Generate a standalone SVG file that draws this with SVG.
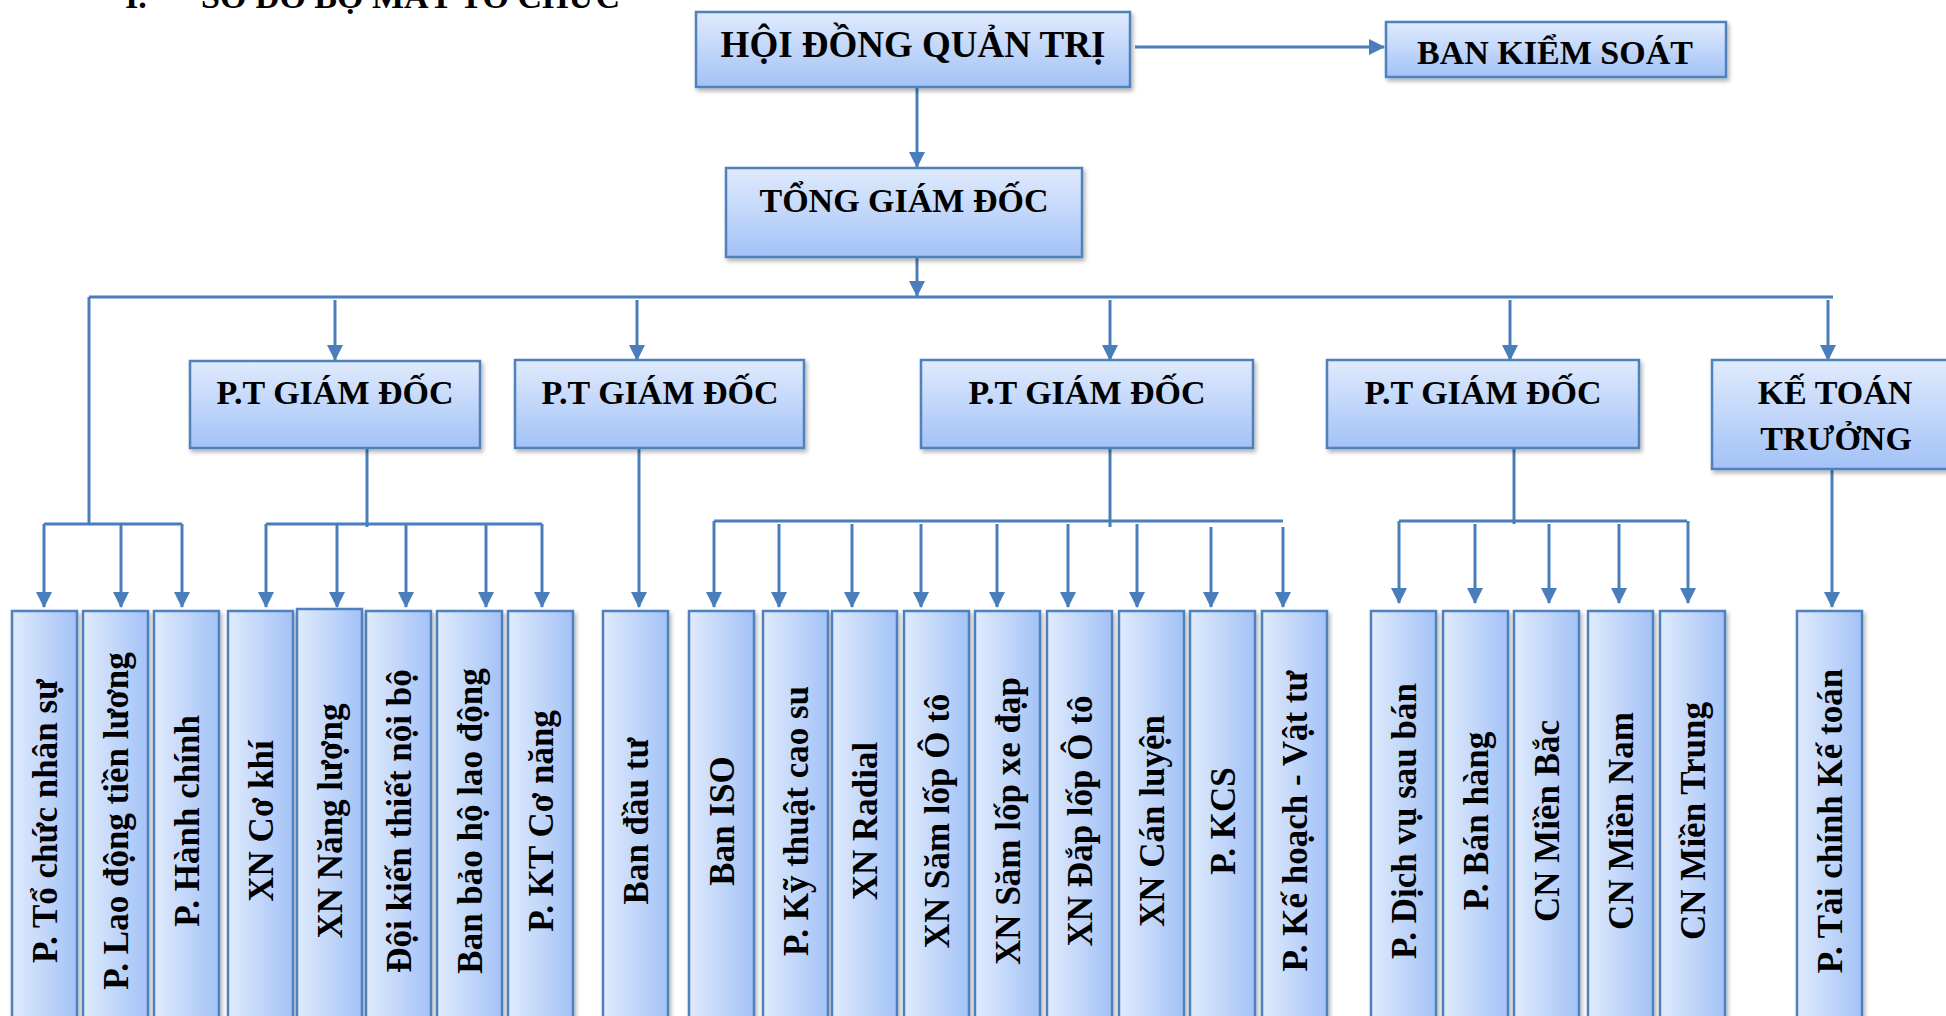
<svg xmlns="http://www.w3.org/2000/svg" width="1946" height="1016" viewBox="0 0 1946 1016">
<style>
.box{stroke:#4f81bd;stroke-width:2.5;filter:url(#sh)}
.h{fill:url(#gv)}
.v{fill:url(#gh)}
.t{font-family:"Liberation Serif","Times New Roman",serif;font-weight:bold;fill:#000}
.tt{font-size:34px;text-anchor:middle}
.vt{font-size:35px;text-anchor:middle}
.c{stroke:#4a7ebb;stroke-width:3;fill:none}
.a{marker-end:url(#ar)}
</style>
<defs>
<linearGradient id="gv" x1="0" y1="0" x2="0" y2="1">
<stop offset="0" stop-color="#e0ebfd"/><stop offset="1" stop-color="#a3c2f6"/>
</linearGradient>
<linearGradient id="gh" x1="0" y1="0" x2="1" y2="0">
<stop offset="0" stop-color="#e0ebfd"/><stop offset="1" stop-color="#a3c2f6"/>
</linearGradient>
<filter id="sh" x="-10%" y="-10%" width="130%" height="130%">
<feDropShadow dx="2" dy="3" stdDeviation="2" flood-color="#000" flood-opacity="0.3"/>
</filter>
<marker id="ar" markerUnits="userSpaceOnUse" markerWidth="16" markerHeight="16" viewBox="0 0 16 16" refX="15" refY="8" orient="auto">
<path d="M0,0 L16,8 L0,16 Z" fill="#4a7ebb"/>
</marker>
</defs>

<text class="t" x="125" y="8" font-size="34">I.</text>
<text class="t" x="201" y="8" font-size="34">SƠ ĐỒ BỘ MÁY TỔ CHỨC</text>

<g id="connectors">
<line class="c a" x1="1135" y1="47" x2="1384" y2="47"/>
<line class="c a" x1="917" y1="87" x2="917" y2="167"/>
<line class="c a" x1="917" y1="257" x2="917" y2="296"/>
<line class="c" x1="89" y1="297" x2="1833" y2="297"/>
<line class="c" x1="89" y1="297" x2="89" y2="524"/>
<line class="c a" x1="335" y1="300" x2="335" y2="360"/>
<line class="c a" x1="637" y1="300" x2="637" y2="360"/>
<line class="c a" x1="1110" y1="300" x2="1110" y2="360"/>
<line class="c a" x1="1510" y1="300" x2="1510" y2="360"/>
<line class="c a" x1="1828" y1="300" x2="1828" y2="360"/>
<!-- left group -->
<line class="c" x1="44" y1="524" x2="182" y2="524"/>
<line class="c a" x1="44" y1="524" x2="44" y2="607"/>
<line class="c a" x1="121" y1="524" x2="121" y2="607"/>
<line class="c a" x1="182" y1="524" x2="182" y2="607"/>
<!-- PTGD1 -->
<line class="c" x1="367" y1="448" x2="367" y2="527"/>
<line class="c" x1="266" y1="524" x2="542" y2="524"/>
<line class="c a" x1="266" y1="524" x2="266" y2="607"/>
<line class="c a" x1="337" y1="524" x2="337" y2="607"/>
<line class="c a" x1="406" y1="524" x2="406" y2="607"/>
<line class="c a" x1="486" y1="524" x2="486" y2="607"/>
<line class="c a" x1="542" y1="524" x2="542" y2="607"/>
<!-- PTGD2 -->
<line class="c a" x1="639" y1="448" x2="639" y2="607"/>
<!-- PTGD3 -->
<line class="c" x1="1110" y1="448" x2="1110" y2="527"/>
<line class="c" x1="714" y1="521" x2="1283" y2="521"/>
<line class="c a" x1="714" y1="521" x2="714" y2="607"/>
<line class="c a" x1="779" y1="524" x2="779" y2="607"/>
<line class="c a" x1="852" y1="524" x2="852" y2="607"/>
<line class="c a" x1="921" y1="524" x2="921" y2="607"/>
<line class="c a" x1="997" y1="524" x2="997" y2="607"/>
<line class="c a" x1="1068" y1="524" x2="1068" y2="607"/>
<line class="c a" x1="1137" y1="524" x2="1137" y2="607"/>
<line class="c a" x1="1211" y1="527" x2="1211" y2="607"/>
<line class="c a" x1="1283" y1="527" x2="1283" y2="607"/>
<!-- PTGD4 -->
<line class="c" x1="1514" y1="448" x2="1514" y2="524"/>
<line class="c" x1="1399" y1="521" x2="1687" y2="521"/>
<line class="c a" x1="1399" y1="521" x2="1399" y2="603"/>
<line class="c a" x1="1475" y1="524" x2="1475" y2="603"/>
<line class="c a" x1="1549" y1="524" x2="1549" y2="603"/>
<line class="c a" x1="1619" y1="524" x2="1619" y2="603"/>
<line class="c a" x1="1688" y1="521" x2="1688" y2="603"/>
<!-- KTT -->
<line class="c a" x1="1832" y1="469" x2="1832" y2="607"/>
</g>

<g id="hdqt"><rect class="box h" x="696" y="12" width="434" height="75"/><text class="t" x="913" y="57" font-size="37" text-anchor="middle">HỘI ĐỒNG QUẢN TRỊ</text></g>
<g id="bks"><rect class="box h" x="1386" y="22" width="340" height="55"/><text class="t tt" x="1555" y="64">BAN KIỂM SOÁT</text></g>
<g id="tgd"><rect class="box h" x="726" y="168" width="356" height="89"/><text class="t tt" x="904" y="212">TỔNG GIÁM ĐỐC</text></g>
<g id="ptgd1"><rect class="box h" x="190" y="361" width="290" height="87"/><text class="t tt" x="335" y="404">P.T GIÁM ĐỐC</text></g>
<g id="ptgd2"><rect class="box h" x="515" y="360" width="289" height="88"/><text class="t tt" x="660" y="404">P.T GIÁM ĐỐC</text></g>
<g id="ptgd3"><rect class="box h" x="921" y="360" width="332" height="88"/><text class="t tt" x="1087" y="404">P.T GIÁM ĐỐC</text></g>
<g id="ptgd4"><rect class="box h" x="1327" y="360" width="312" height="88"/><text class="t tt" x="1483" y="404">P.T GIÁM ĐỐC</text></g>
<g id="ktt"><rect class="box h" x="1712" y="360" width="246" height="109"/><text class="t tt" x="1835" y="404">KẾ TOÁN</text><text class="t tt" x="1836" y="450">TRƯỞNG</text></g>

<g id="n1"><rect class="box v" x="12" y="611" width="65" height="420"/><text class="t vt" transform="translate(57,821) rotate(-90)">P. Tổ chức nhân sự</text></g>
<g id="n2"><rect class="box v" x="83" y="611" width="65" height="420"/><text class="t vt" transform="translate(128,821) rotate(-90)">P. Lao động tiền lương</text></g>
<g id="n3"><rect class="box v" x="154" y="611" width="65" height="420"/><text class="t vt" transform="translate(199,821) rotate(-90)">P. Hành chính</text></g>
<g id="n4"><rect class="box v" x="228" y="611" width="65" height="420"/><text class="t vt" transform="translate(273,821) rotate(-90)">XN Cơ khí</text></g>
<g id="n5"><rect class="box v" x="297" y="609" width="65" height="420"/><text class="t vt" transform="translate(342,821) rotate(-90)">XN Năng lượng</text></g>
<g id="n6"><rect class="box v" x="366" y="611" width="65" height="420"/><text class="t vt" transform="translate(411,821) rotate(-90)">Đội kiến thiết nội bộ</text></g>
<g id="n7"><rect class="box v" x="437" y="611" width="65" height="420"/><text class="t vt" transform="translate(482,821) rotate(-90)">Ban bảo hộ lao động</text></g>
<g id="n8"><rect class="box v" x="508" y="611" width="65" height="420"/><text class="t vt" transform="translate(553,821) rotate(-90)">P. KT Cơ năng</text></g>
<g id="n9"><rect class="box v" x="603" y="611" width="65" height="420"/><text class="t vt" transform="translate(648,821) rotate(-90)">Ban đầu tư</text></g>
<g id="n10"><rect class="box v" x="689" y="611" width="65" height="420"/><text class="t vt" transform="translate(734,821) rotate(-90)">Ban ISO</text></g>
<g id="n11"><rect class="box v" x="763" y="611" width="65" height="420"/><text class="t vt" transform="translate(808,821) rotate(-90)">P. Kỹ thuật cao su</text></g>
<g id="n12"><rect class="box v" x="832" y="611" width="65" height="420"/><text class="t vt" transform="translate(877,821) rotate(-90)">XN Radial</text></g>
<g id="n13"><rect class="box v" x="904" y="611" width="65" height="420"/><text class="t vt" transform="translate(949,821) rotate(-90)">XN Săm lốp Ô tô</text></g>
<g id="n14"><rect class="box v" x="975" y="611" width="65" height="420"/><text class="t vt" transform="translate(1020,821) rotate(-90)">XN Săm lốp xe đạp</text></g>
<g id="n15"><rect class="box v" x="1047" y="611" width="65" height="420"/><text class="t vt" transform="translate(1092,821) rotate(-90)">XN Đắp lốp Ô tô</text></g>
<g id="n16"><rect class="box v" x="1119" y="611" width="65" height="420"/><text class="t vt" transform="translate(1164,821) rotate(-90)">XN Cán luyện</text></g>
<g id="n17"><rect class="box v" x="1190" y="611" width="65" height="420"/><text class="t vt" transform="translate(1235,821) rotate(-90)">P. KCS</text></g>
<g id="n18"><rect class="box v" x="1262" y="611" width="65" height="420"/><text class="t vt" transform="translate(1307,821) rotate(-90)">P. Kế hoạch - Vật tư</text></g>
<g id="n19"><rect class="box v" x="1371" y="611" width="65" height="420"/><text class="t vt" transform="translate(1416,821) rotate(-90)">P. Dịch vụ sau bán</text></g>
<g id="n20"><rect class="box v" x="1443" y="611" width="65" height="420"/><text class="t vt" transform="translate(1488,821) rotate(-90)">P. Bán hàng</text></g>
<g id="n21"><rect class="box v" x="1514" y="611" width="65" height="420"/><text class="t vt" transform="translate(1559,821) rotate(-90)">CN Miền Bắc</text></g>
<g id="n22"><rect class="box v" x="1588" y="611" width="65" height="420"/><text class="t vt" transform="translate(1633,821) rotate(-90)">CN Miền Nam</text></g>
<g id="n23"><rect class="box v" x="1660" y="611" width="65" height="420"/><text class="t vt" transform="translate(1705,821) rotate(-90)">CN Miền Trung</text></g>
<g id="n24"><rect class="box v" x="1797" y="611" width="65" height="420"/><text class="t vt" transform="translate(1842,821) rotate(-90)">P. Tài chính Kế toán</text></g>
</svg>
